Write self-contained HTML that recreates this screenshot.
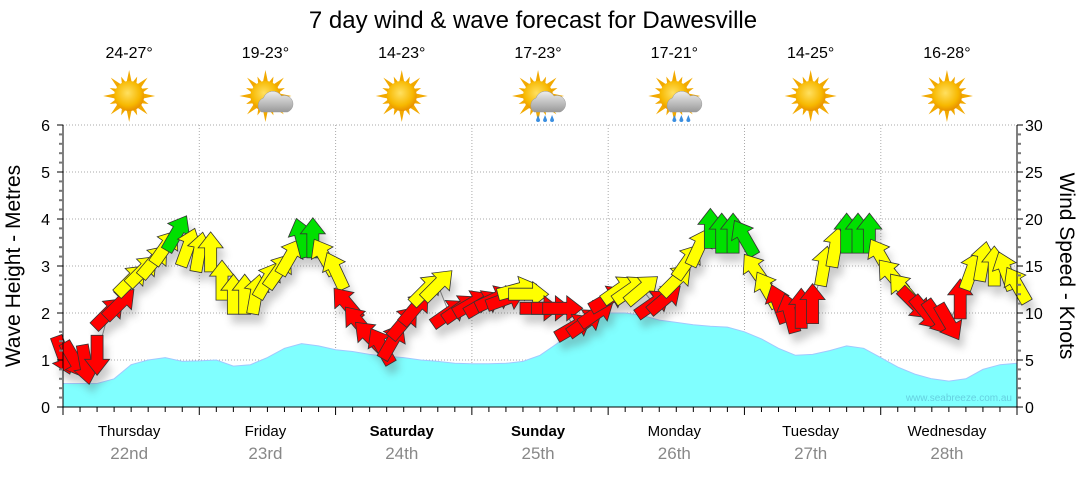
<!DOCTYPE html>
<html><head><meta charset="utf-8"><style>
body{margin:0;background:#fff;}
svg text{font-family:"Liberation Sans","DejaVu Sans",sans-serif;}
</style></head><body>
<svg id="c" width="1080" height="475" viewBox="0 0 1080 475" xmlns="http://www.w3.org/2000/svg">
<defs>
<radialGradient id="sun" cx="45%" cy="40%" r="60%"><stop offset="0" stop-color="#ffe060"/><stop offset="0.7" stop-color="#f7b800"/><stop offset="1" stop-color="#e89000"/></radialGradient>
<linearGradient id="cloud" x1="0" y1="0" x2="0" y2="1"><stop offset="0" stop-color="#eee"/><stop offset="1" stop-color="#999"/></linearGradient>
<filter id="sh" x="-50%" y="-50%" width="200%" height="200%"><feGaussianBlur stdDeviation="4"/></filter>
</defs>
<text x="533" y="28" font-size="24" text-anchor="middle" fill="#000">7 day wind &amp; wave forecast for Dawesville</text>
<g id="plot"></g>
<text x="20" y="266" font-size="21" text-anchor="middle" transform="rotate(-90 20 266)">Wave Height - Metres</text>
<text x="1060" y="266" font-size="21" text-anchor="middle" transform="rotate(90 1060 266)">Wind Speed - Knots</text>
</svg>
<script>
const days=["Thursday","Friday","Saturday","Sunday","Monday","Tuesday","Wednesday"];
const dates=["22nd","23rd","24th","25th","26th","27th","28th"];
const bold=[false,false,true,true,false,false,false];
const temps=["24-27°","19-23°","14-23°","17-23°","17-21°","14-25°","16-28°"];
const icons=["sun","cloud","sun","rain","rain","sun","sun"];
const waveTicks=[0,1,2,3,4,5,6];
const windTicks=[0,5,10,15,20,25,30];
// 3-hourly wave heights (m)
const wave=[0.5,0.5,0.5,0.6,0.9,1.0,1.05,0.97,0.98,1.0,0.87,0.9,1.05,1.25,1.35,1.3,1.22,1.18,1.12,1.08,1.05,1.0,0.97,0.93,0.92,0.92,0.93,0.97,1.1,1.35,1.65,1.9,2.0,2.0,1.95,1.85,1.8,1.75,1.72,1.7,1.6,1.45,1.25,1.1,1.12,1.2,1.3,1.25,1.05,0.85,0.7,0.6,0.55,0.6,0.8,0.9,0.93];
// 2-hourly wind speed (knots) and arrow direction (deg)
const windSpeed=[5.5,5,4.5,5.5,10,11,13.5,14.5,15.5,17,18.5,17,
16.5,16.5,13.5,12,12,12,13.5,14.5,16,18,18,16,
14.5,11,9,7.5,6.5,7,9,10.5,12.5,13,10,10.5,
11,11,11.5,11.5,12.5,12,10.5,10.5,10.5,8.5,9,10,
11.5,12.5,12.5,12.5,11,11.5,13.5,15.5,17,19,18.5,18.5,
18,14.5,12.5,11,10,10.5,11,15,17,18.5,18.5,18.5,
16,14,12.5,11,10,9.5,9,11.5,14.5,15.5,15,14.5,13];
const windDir=[160,150,170,180,45,45,45,45,40,35,30,20,
10,0,0,0,0,10,30,35,30,345,0,330,
335,320,320,315,330,30,40,40,45,45,55,55,
60,60,65,70,75,90,90,90,90,60,55,55,
60,55,55,50,55,50,45,35,25,0,0,0,
330,325,330,340,345,0,0,10,10,0,0,0,
330,320,320,135,140,145,150,0,20,10,0,340,330];
const NS="http://www.w3.org/2000/svg";
const P=document.getElementById('plot');
const X0=63,X1=1017,Y0=407,YT=125;
const xs=i=>X0+i*(X1-X0)/(wave.length-1);
const xw=i=>X0+i*(X1-X0)/(windSpeed.length-1);
const yw=v=>Y0-v*(Y0-YT)/6;
const yk=v=>Y0-v*(Y0-YT)/30;
function el(t,a,p){const e=document.createElementNS(NS,t);for(const k in a)e.setAttribute(k,a[k]);(p||P).appendChild(e);return e;}
for(let d=1;d<7;d++){const g=el('line',{x1:X0+d*136.3,x2:X0+d*136.3,y1:YT,y2:Y0,stroke:'#aaa','stroke-dasharray':'1,2'});

}
for(const v of waveTicks){if(v==0)continue;const g=el('line',{x1:X0,x2:X1,y1:yw(v),y2:yw(v),stroke:'#aaa','stroke-dasharray':'1,2'});

}
let d=`M${X0},${Y0}`;wave.forEach((v,i)=>d+=` L${xs(i).toFixed(1)},${yw(v).toFixed(1)}`);d+=` L${X1},${Y0} Z`;
const wa=el('path',{d:d,fill:'#80ffff',stroke:'#a0c8ff','stroke-width':1});


const wm=el('text',{x:1012,y:401,'font-size':10,'text-anchor':'end',fill:'#66d0e0'});wm.textContent='www.seabreeze.com.au';


let ld='';windSpeed.forEach((v,i)=>ld+=(i?' L':'M')+xw(i).toFixed(1)+','+yk(v).toFixed(1));
const wl=el('path',{d:ld,fill:'none',stroke:'#888','stroke-width':1});


const shape="-6,20 6,20 6,-4 12.5,-4 0,-20 -12.5,-4 -6,-4";
const sg=el('g',{filter:'url(#sh)',opacity:0.3});
windSpeed.forEach((v,i)=>{el('polygon',{points:shape,fill:'#555',transform:`translate(${xw(i)+4},${yk(v)+9}) rotate(${windDir[i]})`},sg);});
windSpeed.forEach((v,i)=>{const c=v<12?'#ff0000':(v<17.8?'#ffff00':'#00e000');
const a=el('polygon',{points:shape,fill:c,stroke:'#333','stroke-width':0.8,transform:`translate(${xw(i)},${yk(v)}) rotate(${windDir[i]})`});

});
el('line',{x1:X0,x2:X0,y1:YT,y2:Y0,stroke:'#000'});el('line',{x1:X1,x2:X1,y1:YT,y2:Y0,stroke:'#000'});el('line',{x1:X0,x2:X1,y1:Y0,y2:Y0,stroke:'#000'});
for(let v=0;v<=6.001;v+=0.2){const y=yw(v);const maj=Math.abs(v-Math.round(v))<0.01;el('line',{x1:X0-(maj?6:4),x2:X0,y1:y,y2:y,stroke:maj?'#000':'#777','stroke-width':maj?1:2});}
for(let v=0;v<=30;v++){const y=yk(v);const maj=v%5==0;el('line',{x1:X1,x2:X1+(maj?6:4),y1:y,y2:y,stroke:maj?'#000':'#777','stroke-width':maj?1:2});}
for(let i=0;i<=56;i++){const x=X0+i*(X1-X0)/56;const maj=i%8==0;el('line',{x1:x,x2:x,y1:Y0,y2:Y0+(maj?8:5),stroke:'#000'});}
waveTicks.forEach(v=>{const t=el('text',{x:50,y:yw(v)+6,'font-size':16,'text-anchor':'end'});t.textContent=v;

});
windTicks.forEach(v=>{const t=el('text',{x:1025,y:yk(v)+6,'font-size':16});t.textContent=v;

});
days.forEach((n,i)=>{const cx=X0+136.3*(i+0.5)-2;
const t=el('text',{x:cx,y:436,'font-size':15,'text-anchor':'middle','font-weight':bold[i]?'bold':'normal'});t.textContent=n;


const t2=el('text',{x:cx,y:459,'font-size':17,'text-anchor':'middle',fill:'#888'});t2.textContent=dates[i];


const t3=el('text',{x:cx,y:58,'font-size':16,'text-anchor':'middle'});t3.textContent=temps[i];


const g=el('g',{transform:`translate(${cx},96)`});


for(let k=0;k<16;k++){el('polygon',{points:k%2?"-2,-14 2,-14 0,-21":"-2.5,-14 2.5,-14 0,-26",fill:'#f2a900',transform:`rotate(${k*22.5})`},g);}
el('circle',{cx:0,cy:0,r:15,fill:'url(#sun)'},g);
if(icons[i]!='sun'){el('path',{d:'M-4,16 a8,8 0 0 1 2,-14 a10,10 0 0 1 18,-2 a8,8 0 0 1 6,16 z',fill:'url(#cloud)',stroke:'#999','stroke-width':0.5},g);}
if(icons[i]=='rain'){[0,7,14].forEach(dx=>el('path',{d:`M${dx},19 l-2,5 a2,2 0 0 0 4,0 z`,fill:'#3a8ee0'},g));}
});
</script>
</body></html>
